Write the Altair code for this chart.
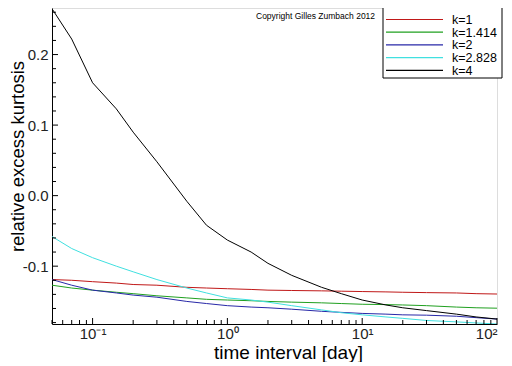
import altair as alt
import pandas as pd

# time interval [day]
x_vals = [0.05, 0.07, 0.1, 0.15, 0.2, 0.3, 0.5, 0.7, 1, 1.5, 2, 3, 5, 7, 10, 15, 20, 30, 50, 70, 100]

k1 = [-0.119, -0.120, -0.122, -0.124, -0.126, -0.127, -0.130, -0.131, -0.132, -0.133, -0.134, -0.1345,
      -0.135, -0.1355, -0.136, -0.1365, -0.137, -0.1375, -0.138, -0.139, -0.1395]
k1414 = [-0.127, -0.131, -0.134, -0.137, -0.139, -0.142, -0.145, -0.147, -0.148, -0.149, -0.150, -0.151,
         -0.152, -0.153, -0.154, -0.1545, -0.155, -0.156, -0.158, -0.159, -0.1596]
k2 = [-0.119, -0.127, -0.134, -0.138, -0.141, -0.144, -0.150, -0.153, -0.156, -0.158, -0.159, -0.161,
      -0.164, -0.1655, -0.167, -0.168, -0.169, -0.1695, -0.171, -0.173, -0.175]
k2828 = [-0.058, -0.075, -0.088, -0.100, -0.108, -0.119, -0.131, -0.138, -0.145, -0.148, -0.151, -0.156,
         -0.162, -0.166, -0.169, -0.172, -0.174, -0.177, -0.179, -0.1805, -0.182]
k4 = [0.265, 0.222, 0.160, 0.123, 0.090, 0.048, -0.008, -0.042, -0.063, -0.080, -0.096, -0.113,
      -0.130, -0.139, -0.148, -0.155, -0.159, -0.163, -0.168, -0.172, -0.175]

series_names = ["k=1", "k=1.414", "k=2", "k=2.828", "k=4"]
series_vals = [k1, k1414, k2, k2828, k4]
series_colors = ["#c01818", "#20a020", "#2828a8", "#40e0e0", "#000000"]

x_major = [0.1, 1, 10, 100]
x_minor = [0.05, 0.06, 0.07, 0.08, 0.09, 0.2, 0.3, 0.4, 0.5, 0.6, 0.7, 0.8, 0.9,
           2, 3, 4, 5, 6, 7, 8, 9, 20, 30, 40, 50, 60, 70, 80, 90]
y_major = [-0.1, 0.0, 0.1, 0.2]
y_minor = [-0.18, -0.16, -0.14, -0.12, -0.08, -0.06, -0.04, -0.02, 0.02, 0.04, 0.06, 0.08,
           0.12, 0.14, 0.16, 0.18, 0.22, 0.24, 0.26]

copyright_text = "Copyright Gilles Zumbach 2012"

rows = []
for i, (name, vals) in enumerate(zip(series_names, series_vals)):
    for xv, yv in zip(x_vals, vals):
        rows.append({"t": xv, "v": yv, "k": name, "o": i})
df = pd.DataFrame(rows)

W, H = 445, 316
FONT = "Liberation Sans"

# legend layout (pixels inside the plot area)
LEG_X0, LEG_X1, LEG_Y0, LEG_Y1 = 331, 450, -1, 70
LEG_ROW0, LEG_ROWSTEP = 11.5, 12.7
leg = pd.DataFrame({"k": series_names, "col": series_colors})
leg["py"] = [LEG_ROW0 + LEG_ROWSTEP * i for i in range(len(series_names))]
leg["lx0"] = LEG_X0 + 3
leg["lx1"] = LEG_X0 + 60
leg["tx"] = LEG_X0 + 69
box = pd.DataFrame({"bx0": [LEG_X0], "bx1": [LEG_X1], "by0": [LEG_Y0], "by1": [LEG_Y1]})

color_scale = alt.Scale(domain=series_names, range=series_colors)
xscale = alt.Scale(type="log", domain=[0.05, 100], nice=False)
yscale = alt.Scale(domain=[-0.182, 0.266], nice=False, zero=False)

lines = alt.Chart(df).mark_line(strokeWidth=1, clip=True).encode(
    x=alt.X("t:Q", scale=xscale,
            axis=alt.Axis(values=x_major, ticks=False, grid=False, domainColor="black",
                          labelExpr="datum.value < 0.5 ? '10⁻¹' : datum.value < 5 ? '10⁰' : datum.value < 50 ? '10¹' : '10²'",
                          labelFont=FONT, labelFontSize=15, labelColor="#222", labelPadding=2,
                          title="time interval [day]", titleFont=FONT, titleFontSize=19,
                          titleFontWeight="normal", titleColor="black",
                          titleX=236, titleY=34, titleBaseline="alphabetic")),
    y=alt.Y("v:Q", scale=yscale,
            axis=alt.Axis(values=y_major, ticks=False, grid=False, domainColor="black",
                          labelExpr="datum.value < 0 ? '-' + format(-datum.value, '.1f') : format(datum.value, '.1f')",
                          labelFont=FONT, labelFontSize=15, labelColor="#222", labelPadding=4,
                          title="relative excess kurtosis", titleFont=FONT, titleFontSize=18.5,
                          titleFontWeight="normal", titleColor="black",
                          titleX=-25, titleY=148, titleBaseline="bottom", titleAngle=270)),
    color=alt.Color("k:N", scale=color_scale, legend=None),
    order="o:Q",
    detail="k:N",
)

xt_major = alt.Chart(pd.DataFrame({"t": x_major})).mark_rule(color="black").encode(
    x=alt.X("t:Q", scale=xscale), y=alt.value(H), y2=alt.value(H - 6))
xt_minor = alt.Chart(pd.DataFrame({"t": x_minor})).mark_rule(color="black").encode(
    x=alt.X("t:Q", scale=xscale), y=alt.value(H), y2=alt.value(H - 4))
yt_major = alt.Chart(pd.DataFrame({"v": y_major})).mark_rule(color="black").encode(
    y=alt.Y("v:Q", scale=yscale), x=alt.value(0), x2=alt.value(6))
yt_minor = alt.Chart(pd.DataFrame({"v": y_minor})).mark_rule(color="black").encode(
    y=alt.Y("v:Q", scale=yscale), x=alt.value(0), x2=alt.value(4))

note = alt.Chart(pd.DataFrame({"txt": [copyright_text]})).mark_text(
    align="left", baseline="middle", font=FONT, fontSize=8.5, color="black"
).encode(x=alt.value(204), y=alt.value(8), text="txt:N")

leg_box = alt.Chart(box).mark_rect(fill="white", stroke="black", strokeWidth=1).encode(
    x=alt.X("bx0:Q", scale=None), x2="bx1:Q",
    y=alt.Y("by0:Q", scale=None), y2="by1:Q",
)
leg_lines = alt.Chart(leg).mark_rule(strokeWidth=1.2).encode(
    x=alt.X("lx0:Q", scale=None), x2="lx1:Q",
    y=alt.Y("py:Q", scale=None),
    stroke=alt.Stroke("col:N", scale=None),
)
leg_text = alt.Chart(leg).mark_text(
    align="left", baseline="middle", font=FONT, fontSize=12.5, color="black", dy=0.5
).encode(x=alt.X("tx:Q", scale=None), y=alt.Y("py:Q", scale=None), text="k:N")

chart = alt.layer(lines, xt_major, xt_minor, yt_major, yt_minor, note,
                  leg_box, leg_lines, leg_text).properties(
    width=W, height=H,
    autosize=alt.AutoSizeParams(type="none"),
    padding={"left": 44, "top": 0, "right": 7, "bottom": 38},
).configure_view(stroke=None).configure(background="white")

chart.save("out.html", embed_options={"renderer": "svg", "actions": False})
